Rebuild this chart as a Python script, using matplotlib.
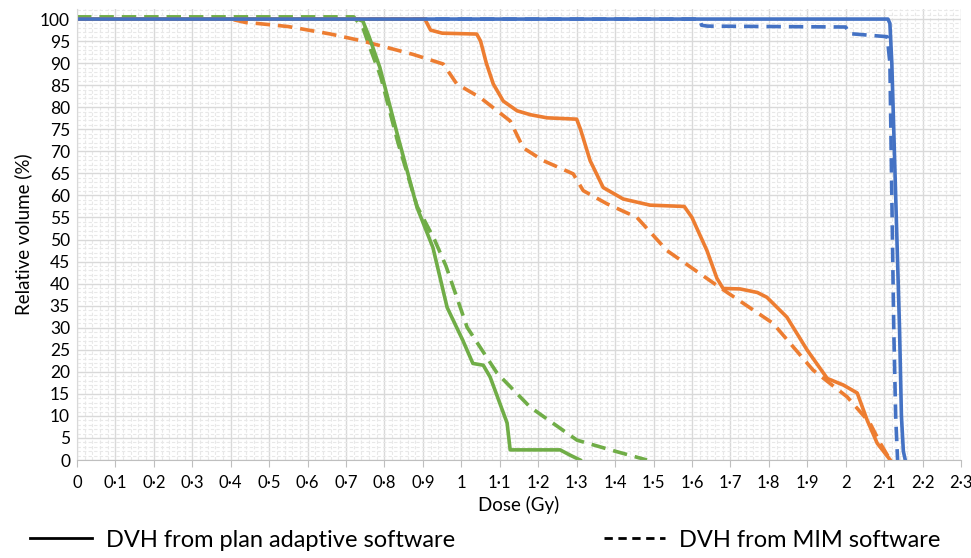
import matplotlib
matplotlib.use("Agg")
import matplotlib.pyplot as plt
from matplotlib.lines import Line2D
from matplotlib.ticker import MultipleLocator

plt.rcParams["font.family"] = ["Lato", "DejaVu Sans"]

# ---- data (dose in Gy, volume in %) ----
blue_solid_x = [0, 2.11, 2.115, 2.12, 2.13, 2.14, 2.145, 2.15, 2.155]
blue_solid_y = [100, 100, 99, 90, 60, 30, 10, 2, 0]

blue_mim_x = [0, 1.62, 1.625, 1.64, 2.0, 2.01, 2.108, 2.115, 2.12, 2.125, 2.13, 2.135]
blue_mim_y = [100, 100, 98.6, 98.4, 98.2, 96.7, 96.0, 90, 60, 30, 10, 0]

orange_solid_x = [0, 0.905, 0.92, 0.95, 1.04, 1.05, 1.065, 1.083, 1.109, 1.145, 1.18,
                  1.223, 1.30, 1.31, 1.335, 1.369, 1.421, 1.491, 1.58, 1.60, 1.639,
                  1.665, 1.681, 1.725, 1.77, 1.795, 1.847, 1.90, 1.952, 1.994, 2.03,
                  2.056, 2.082, 2.116]
orange_solid_y = [100, 100, 97.5, 96.8, 96.6, 95, 90, 85.3, 81.4, 79.2, 78.3,
                  77.6, 77.3, 75, 67.9, 61.8, 59.2, 57.8, 57.5, 55, 47.5,
                  41.2, 38.9, 38.8, 38.0, 36.9, 32.4, 24.9, 18.5, 17.0, 15.2,
                  9.0, 3.8, 0]

orange_mim_x = [0, 0.40, 0.44, 0.47, 0.55, 0.66, 0.744, 0.874, 0.953, 0.988, 1.049,
                1.127, 1.161, 1.213, 1.291, 1.317, 1.379, 1.457, 1.535, 1.673,
                1.811, 1.915, 2.004, 2.063, 2.09, 2.116]
orange_mim_y = [100, 100, 99.2, 99.0, 98.3, 96.6, 95.0, 92.0, 89.8, 85.3, 82.2,
                76.9, 70.8, 67.9, 64.9, 61.1, 58.1, 55.0, 47.5, 39.1,
                31.0, 20.4, 14.3, 8.4, 3.8, 0]

green_solid_x = [0, 0.73, 0.744, 0.76, 0.788, 0.833, 0.885, 0.926, 0.963, 1.004,
                 1.03, 1.057, 1.075, 1.119, 1.127, 1.257, 1.283, 1.309]
green_solid_y = [100, 100, 99.5, 96, 89, 74, 57.2, 48.2, 34.6, 27.1,
                 21.9, 21.5, 18.8, 8.4, 2.3, 2.3, 1.1, 0]

green_mim_x = [0, 0.72, 0.744, 0.76, 0.79, 0.835, 0.885, 0.93, 0.96, 1.015, 1.093,
               1.179, 1.301, 1.40, 1.483]
green_mim_y = [100.5, 100.5, 98, 94, 87, 72, 57.5, 50, 44, 30.1, 19.7,
               12.0, 4.5, 2.0, 0]

x_ticks = [i / 10 for i in range(24)]
x_tick_labels = ["0", "0·1", "0·2", "0·3", "0·4", "0·5", "0·6", "0·7", "0·8", "0·9",
                 "1", "1·1", "1·2", "1·3", "1·4", "1·5", "1·6", "1·7", "1·8", "1·9",
                 "2", "2·1", "2·2", "2·3"]
y_ticks = list(range(0, 101, 5))

BLUE = "#4472C4"
ORANGE = "#ED7D31"
GREEN = "#70AD47"

fig = plt.figure(figsize=(9.71, 5.58), dpi=100)
ax = fig.add_axes([0.0793, 0.1756, 0.9104, 0.8084])

lw = 2.6
dash = (4, 2.2)
ax.plot(green_mim_x, green_mim_y, color=GREEN, lw=lw, dashes=dash)
ax.plot(orange_mim_x, orange_mim_y, color=ORANGE, lw=lw, dashes=dash)
ax.plot(blue_mim_x, blue_mim_y, color=BLUE, lw=lw, dashes=dash)
ax.plot(green_solid_x, green_solid_y, color=GREEN, lw=lw)
ax.plot(orange_solid_x, orange_solid_y, color=ORANGE, lw=lw)
ax.plot(blue_solid_x, blue_solid_y, color=BLUE, lw=lw)

ax.set_xlim(0, 2.3)
ax.set_ylim(0, 102.3)
ax.set_xticks(x_ticks)
ax.set_xticklabels(x_tick_labels, fontsize=12)
ax.set_yticks(y_ticks)
ax.set_yticklabels([str(v) for v in y_ticks], fontsize=12.5)
ax.xaxis.set_minor_locator(MultipleLocator(0.02))
ax.yaxis.set_minor_locator(MultipleLocator(1))

ax.grid(which="major", color="#d9d9d9", lw=1.0)
ax.grid(which="minor", color="#e8e8e8", lw=0.8, ls=(0, (3, 2)))
ax.set_axisbelow(True)
ax.tick_params(axis="x", which="major", length=5, color="#bfbfbf", pad=6)
ax.tick_params(axis="y", which="major", length=0, pad=5)
ax.tick_params(which="minor", length=0)
for s in ["top", "right"]:
    ax.spines[s].set_visible(False)
ax.spines["left"].set_color("#d9d9d9")
ax.spines["bottom"].set_color("#bfbfbf")

ax.set_xlabel("Dose (Gy)", fontsize=13.5, labelpad=3)
ax.set_ylabel("Relative volume (%)", fontsize=13.5, labelpad=6)

handles = [Line2D([], [], color="black", lw=2),
           Line2D([], [], color="black", lw=2, dashes=(3, 2))]
fig.legend(handles, ["DVH from plan adaptive software", "DVH from MIM software"],
           loc="lower center", bbox_to_anchor=(0.5, -0.025), ncol=2, frameon=False,
           fontsize=17, handlelength=2.6, columnspacing=6.3, handletextpad=0.6)

fig.savefig("out.png", dpi=100)
